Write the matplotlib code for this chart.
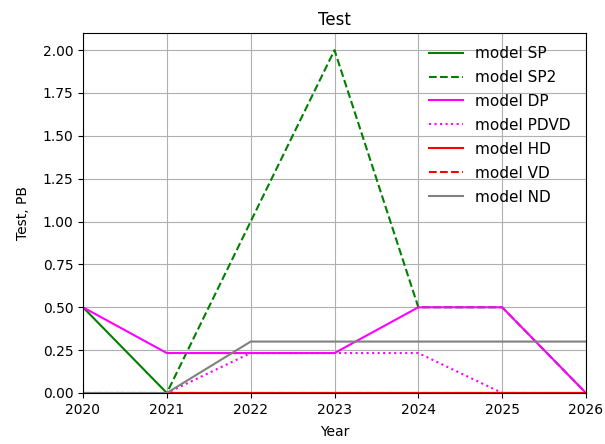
import matplotlib
matplotlib.use("Agg")
import matplotlib.pyplot as plt

years = [2020, 2021, 2022, 2023, 2024, 2025, 2026]
years_hv = [2021, 2022, 2023, 2024, 2025, 2026]

sp = [0.5, 0.0, 0.0, 0.0, 0.0, 0.0, 0.0]
sp2 = [0.0, 0.0, 1.0, 2.0, 0.5, 0.5, 0.0]
dp = [0.5, 0.233, 0.233, 0.233, 0.5, 0.5, 0.0]
pdvd = [0.0, 0.0, 0.233, 0.233, 0.233, 0.0, 0.0]
hd = [0.0, 0.0, 0.0, 0.0, 0.0, 0.0]
vd = [0.0, 0.0, 0.0, 0.0, 0.0, 0.0]
nd = [0.0, 0.0, 0.3, 0.3, 0.3, 0.3, 0.3]

fig = plt.figure(figsize=(6.05, 4.44), dpi=100)
ax = fig.add_axes([83/605, 1-393/444, (586-83)/605, (393-33)/444])
ax.plot(years, sp, color="green", linestyle="-", label="model SP")
ax.plot(years, sp2, color="green", linestyle="--", label="model SP2")
ax.plot(years, dp, color="magenta", linestyle="-", label="model DP")
ax.plot(years, pdvd, color="magenta", linestyle=":", label="model PDVD")
ax.plot(years_hv, hd, color="red", linestyle="-", label="model HD")
ax.plot(years_hv, vd, color="red", linestyle="--", label="model VD")
ax.plot(years, nd, color="gray", linestyle="-", label="model ND")

ax.set_xlim(2020, 2026)
ax.set_ylim(0, 2.1)
ax.set_yticks([0, 0.25, 0.5, 0.75, 1.0, 1.25, 1.5, 1.75, 2.0])
ax.set_yticklabels(["0.00", "0.25", "0.50", "0.75", "1.00", "1.25", "1.50", "1.75", "2.00"])
ax.grid(True)
ax.set_title("Test")
ax.set_xlabel("Year", labelpad=6)
ax.set_ylabel("Test, PB", labelpad=9)
ax.legend(frameon=False, loc="upper left", fontsize=11, handlelength=2.2,
          labelspacing=0.585, bbox_to_anchor=(0.676, 0.981), borderaxespad=0)
fig.savefig("out.png", dpi=100)
